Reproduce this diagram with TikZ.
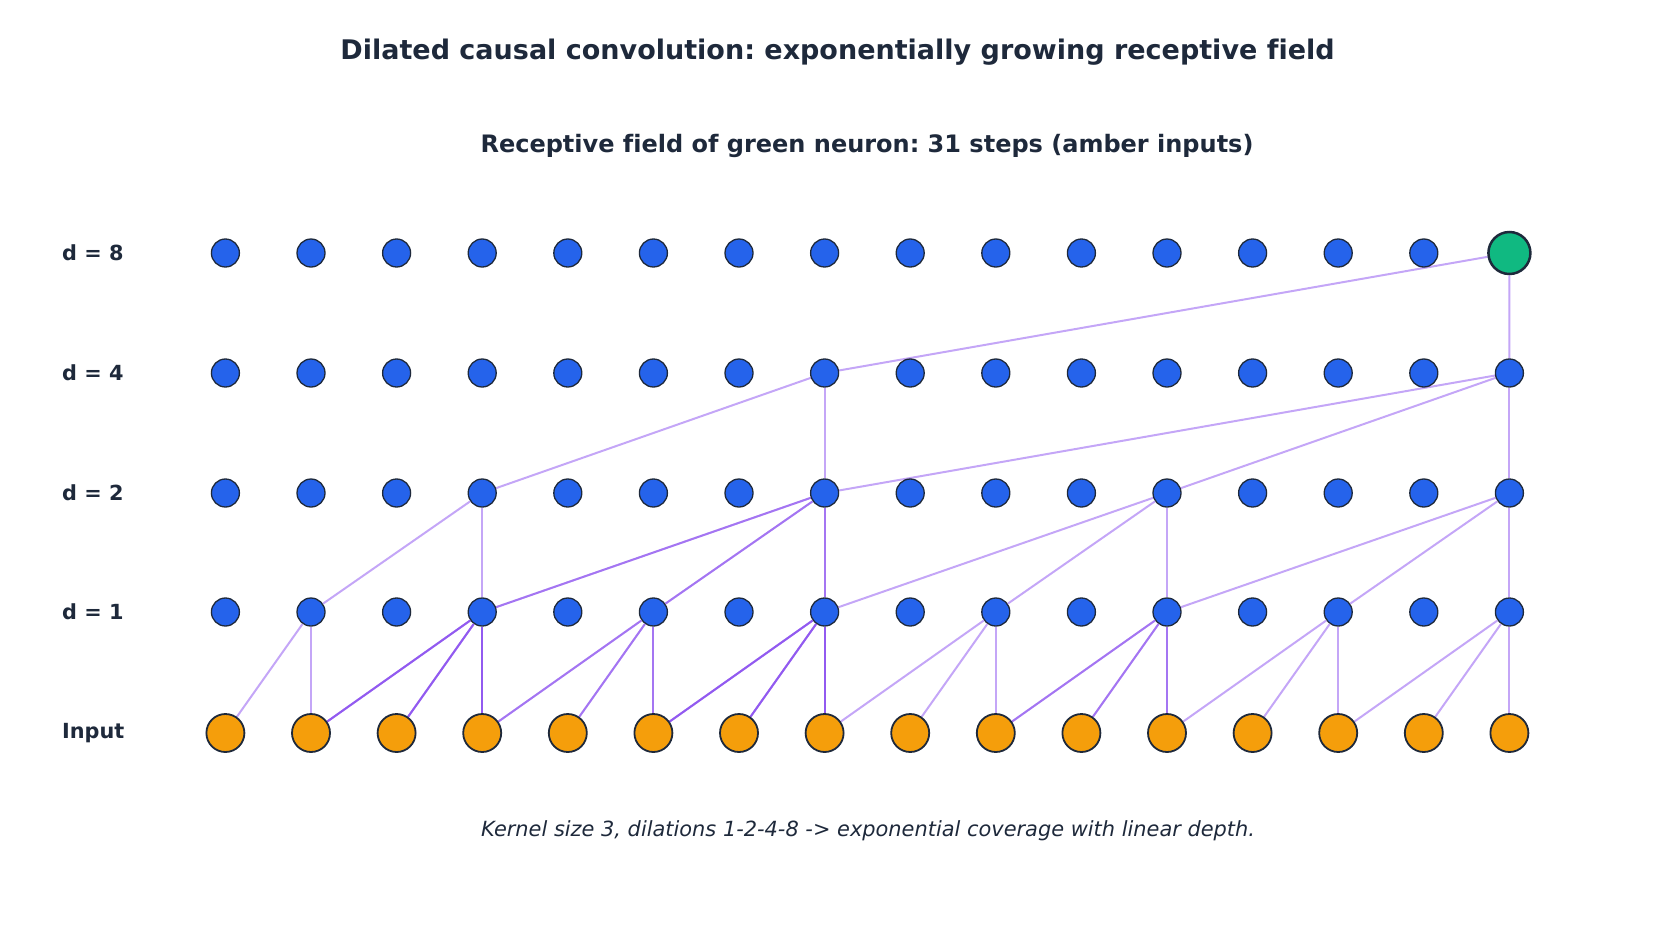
\documentclass[tikz,border=0pt]{standalone}
\usepackage{fontspec}
\setmainfont[Ligatures=NoCommon]{DejaVu Sans}
\usepackage{tikz}
\usetikzlibrary{positioning}

\definecolor{ink}{HTML}{1E293B}
\definecolor{unitblue}{HTML}{2563EB}
\definecolor{amber}{HTML}{F59E0B}
\definecolor{target}{HTML}{10B981}
\definecolor{link}{HTML}{7C3AED}

\pgfdeclarelayer{background}
\pgfsetlayers{background,main}

\frenchspacing

\begin{document}
\begin{tikzpicture}[
  x=1pt, y=-1pt,
  hidden/.style={circle, draw=ink, line width=1.3pt, fill=unitblue, minimum size=28pt, inner sep=0pt},
  inputunit/.style={hidden, fill=amber, minimum size=38pt, line width=1.8pt},
  outputunit/.style={hidden, fill=target, minimum size=42pt, line width=2.5pt},
  rowlab/.style={anchor=west, inner sep=0pt, text=ink, font=\fontsize{20.8}{25}\selectfont\bfseries},
  edge/.style={draw=link, draw opacity=0.45, line width=2pt}
]
  \useasboundingbox (0,0) rectangle (1675,924);

  \node[text=ink, font=\fontsize{27}{32}\selectfont\bfseries] (title) at (837.5,52.5)
    {Dilated causal convolution: exponentially growing receptive field};
  \node[text=ink, font=\fontsize{24}{29}\selectfont\bfseries] (subtitle) at (867,146)
    {Receptive field of green neuron: 31 steps (amber inputs)};
  \node[text=ink, font=\fontsize{20.9}{25}\selectfont\itshape] (caption) at (868,831)
    {Kernel size 3, dilations 1-2-4-8 -> exponential coverage with linear depth.};

  % row labels
  \node[rowlab] (lab-d8) at (62,253) {d = 8};
  \node[rowlab] (lab-d4) at (62,373) {d = 4};
  \node[rowlab] (lab-d2) at (62,493) {d = 2};
  \node[rowlab] (lab-d1) at (62,612) {d = 1};
  \node[rowlab] (lab-in) at (62,733) {Input};

  % neurons
  \foreach \i in {0,...,15} {
    \node[inputunit] (in-\i) at ({225.4+85.6*\i},733) {};
    \node[hidden] (d1-\i) at ({225.4+85.6*\i},612) {};
    \node[hidden] (d2-\i) at ({225.4+85.6*\i},493) {};
    \node[hidden] (d4-\i) at ({225.4+85.6*\i},373) {};
  }
  \foreach \i in {0,...,14}
    \node[hidden] (d8-\i) at ({225.4+85.6*\i},253) {};
  \node[outputunit] (d8-15) at (1509.4,253) {};

  % connections of the receptive field (drawn once per path)
  \begin{pgfonlayer}{background}
    \foreach \a/\b/\m in {d8-15/d4-7/1, d8-15/d4-15/1,
        d4-7/d2-3/1, d4-7/d2-7/1, d4-15/d2-7/1, d4-15/d2-11/1, d4-15/d2-15/1,
        d2-3/d1-1/1, d2-3/d1-3/1,
        d2-7/d1-3/2, d2-7/d1-5/2, d2-7/d1-7/2,
        d2-11/d1-7/1, d2-11/d1-9/1, d2-11/d1-11/1,
        d2-15/d1-11/1, d2-15/d1-13/1, d2-15/d1-15/1,
        d1-1/in-0/1, d1-1/in-1/1,
        d1-3/in-1/3, d1-3/in-2/3, d1-3/in-3/3,
        d1-5/in-3/2, d1-5/in-4/2, d1-5/in-5/2,
        d1-7/in-5/3, d1-7/in-6/3, d1-7/in-7/3,
        d1-9/in-7/1, d1-9/in-8/1, d1-9/in-9/1,
        d1-11/in-9/2, d1-11/in-10/2, d1-11/in-11/2,
        d1-13/in-11/1, d1-13/in-12/1, d1-13/in-13/1,
        d1-15/in-13/1, d1-15/in-14/1, d1-15/in-15/1}
      \foreach \k in {1,...,\m}
        \draw[edge] (\a) -- (\b);
  \end{pgfonlayer}
\end{tikzpicture}
\end{document}
